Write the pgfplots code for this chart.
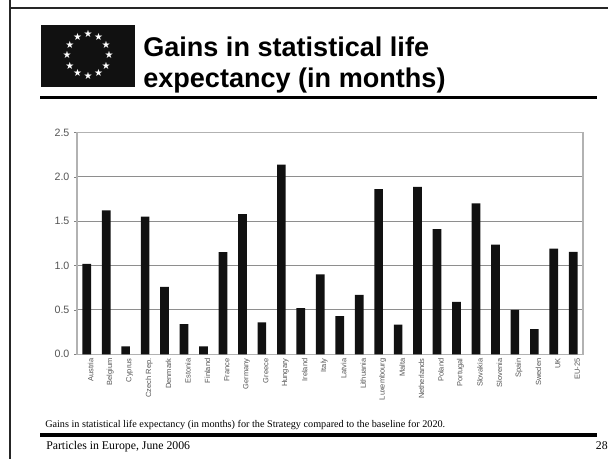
\documentclass[border=0pt]{standalone}
\usepackage{pgfplots}
\usepackage{fontspec}
\usetikzlibrary{calc}
\setmainfont{Liberation Sans}
\newfontfamily\serifx{Liberation Serif}
\newfontfamily\dejavu{DejaVu Sans}
\pgfplotsset{compat=1.18}
\definecolor{barc}{HTML}{111111}
\definecolor{gridc}{HTML}{8E8E8E}
\definecolor{lab}{HTML}{555555}
\begin{document}
\begin{tikzpicture}[x=0.75pt,y=0.75pt]
\path[use as bounding box] (0,0) rectangle (608,459);
\fill[white] (0,0) rectangle (608,459);
% frame
\fill[black!85] (8.5,459) rectangle (11,0);
\fill[black!85] (8.5,451.5) rectangle (608,449.5);
% flag
\fill[barc] (41,434) rectangle (135,372);
\foreach \a in {0,30,...,330}{
  \node[text=white,inner sep=0pt,font=\dejavu\fontsize{7.5}{7.5}\selectfont] at ($(88,404)+(\a:21)$) {★};
}
% title
\node[anchor=base west,inner sep=0pt,font=\fontsize{20.3}{20.3}\selectfont\bfseries] at (143,402.5) {Gains in statistical life};
\node[anchor=base west,inner sep=0pt,font=\fontsize{20.3}{20.3}\selectfont\bfseries] at (143,371) {expectancy (in months)};
\fill[black] (40,362.5) rectangle (597,359.5);
\begin{axis}[
  at={(57.75pt,78.5pt)},anchor=south west,
  scale only axis,width=379.5pt,height=166.5pt,
  ybar,bar width=6.5pt,
  xmin=-0.5,xmax=25.5,ymin=0,ymax=2.5,
  ytick={0,0.5,1,1.5,2,2.5},
  ytick pos=left,
  yticklabel style={/pgf/number format/fixed,/pgf/number format/fixed zerofill,/pgf/number format/precision=1,/pgf/number format/assume math mode=true,font=\fontsize{8}{8}\selectfont,text=lab,inner sep=1.5pt,xshift=-2pt},
  xtick=data,
  xticklabels={Austria,Belgium,Cyprus,Czech Rep.,Denmark,Estonia,Finland,France,Germany,Greece,Hungary,Ireland,Italy,Latvia,Lithuania,Luxembourg,Malta,Netherlands,Poland,Portugal,Slovakia,Slovenia,Spain,Sweden,UK,EU-25},
  xticklabel style={rotate=90,anchor=east,font=\fontsize{5.6}{6}\selectfont,text=lab,inner sep=1pt,yshift=-3pt},
  major x tick style={draw=none},
  ytick align=outside,
  ymajorgrids,
  major grid style={gridc,line width=0.7pt},
  major tick length=2pt,
  tick style={gray},
  axis line style={gray!60,line width=0.8pt},
  clip=false,
]
\addplot[fill=barc,draw=none] coordinates {
(0,1.02)(1,1.62)(2,0.09)(3,1.55)(4,0.76)(5,0.34)(6,0.09)(7,1.15)(8,1.58)(9,0.36)(10,2.135)(11,0.52)(12,0.90)(13,0.43)(14,0.67)(15,1.86)(16,0.335)(17,1.885)(18,1.41)(19,0.59)(20,1.70)(21,1.235)(22,0.50)(23,0.285)(24,1.19)(25,1.155)};
\end{axis}
% caption and footer
\node[anchor=base west,inner sep=0pt,font=\serifx\fontsize{7.65}{8}\selectfont] at (45,31) {Gains in statistical life expectancy (in months) for the Strategy compared to the baseline for 2020.};
\fill[black] (40,26) rectangle (597,22);
\node[anchor=base west,inner sep=0pt,font=\serifx\fontsize{8.85}{9}\selectfont] at (46,9.5) {Particles in Europe, June 2006};
\node[anchor=base east,inner sep=0pt,font=\serifx\fontsize{8.85}{9}\selectfont] at (608,9.5) {28};
\end{tikzpicture}
\end{document}
